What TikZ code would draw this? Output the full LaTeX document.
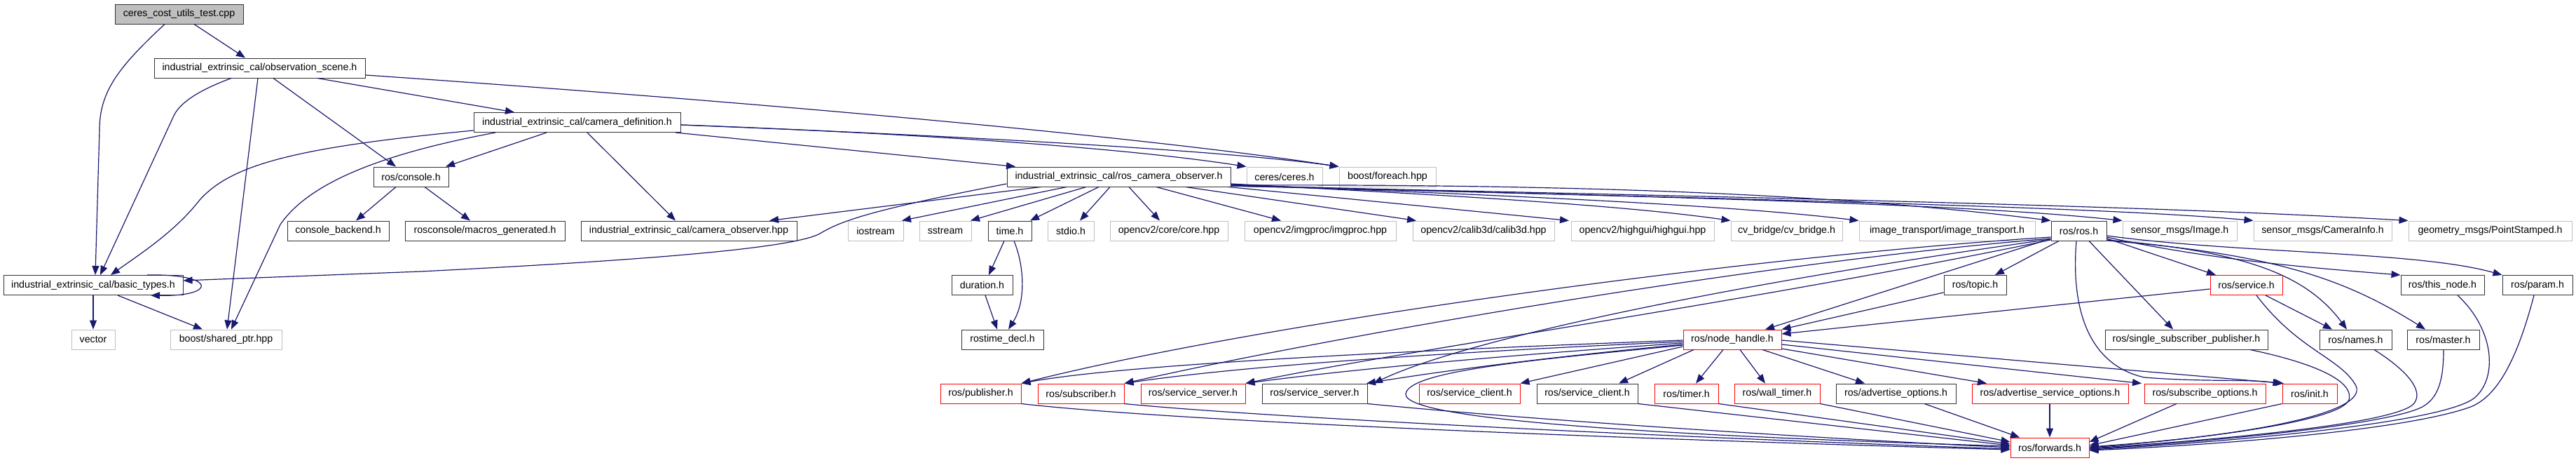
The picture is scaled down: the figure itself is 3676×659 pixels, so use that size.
\documentclass[tikz,border=0pt]{standalone}
\usepackage{fontspec}
\setmainfont{Liberation Sans}
\usepackage{tikz}
\usetikzlibrary{arrows.meta}
\tikzset{>={Triangle[length=13pt,width=10pt]}}
\definecolor{edgeblue}{RGB}{25,25,112}
\definecolor{sysgray}{RGB}{191,191,191}
\definecolor{framegray}{RGB}{50,50,50}
\definecolor{truncred}{RGB}{255,0,0}
\tikzset{
  hdrbox/.style={draw=framegray, line width=1pt, minimum height=28pt, inner sep=0pt, font=\fontsize{14.2}{16}\selectfont}, % documented header
  sysbox/.style={hdrbox, draw=sysgray}, % header outside the project
  cutbox/.style={hdrbox, draw=truncred}, % graph truncated below
  srcbox/.style={hdrbox, fill=sysgray}, % the file itself
  incl/.style={->, draw=edgeblue, line width=1.2pt}
}

\begin{document}
\begin{tikzpicture}[x=1pt,y=-1pt]
	\useasboundingbox (0,0) rectangle (3676,659);
	% rows 1-4
	\node[srcbox, minimum width=183] (cct) at (255.5,20) {ceres\_cost\_utils\_test.cpp};
	\node[hdrbox, minimum width=301] (obs) at (370.5,97) {industrial\_extrinsic\_cal/observation\_scene.h};
	\node[hdrbox, minimum width=295] (camdef) at (823.5,174.5) {industrial\_extrinsic\_cal/camera\_definition.h};
	\node[hdrbox, minimum width=107] (console) at (586.5,252) {ros/console.h};
	\node[hdrbox, minimum width=319] (roscamobs) at (1596.5,252) {industrial\_extrinsic\_cal/ros\_camera\_observer.h};
	\node[sysbox, minimum width=108] (ceres) at (1833,252) {ceres/ceres.h};
	\node[sysbox, minimum width=138] (foreach) at (1980,252) {boost/foreach.hpp};
	% row 5
	\node[hdrbox, minimum width=145] (backend) at (482.5,329) {console\_backend.h};
	\node[hdrbox, minimum width=228] (macros) at (692,329) {rosconsole/macros\_generated.h};
	\node[hdrbox, minimum width=308] (camobshpp) at (983,329) {industrial\_extrinsic\_cal/camera\_observer.hpp};
	\node[sysbox, minimum width=79] (iostream) at (1249.5,329) {iostream};
	\node[sysbox, minimum width=74] (sstream) at (1349,329) {sstream};
	\node[hdrbox, minimum width=62] (timeh) at (1441,329) {time.h};
	\node[sysbox, minimum width=66] (stdio) at (1528,329) {stdio.h};
	\node[sysbox, minimum width=168] (core) at (1668,329) {opencv2/core/core.hpp};
	\node[sysbox, minimum width=216] (imgproc) at (1884,329) {opencv2/imgproc/imgproc.hpp};
	\node[sysbox, minimum width=202] (calib) at (2117,329) {opencv2/calib3d/calib3d.hpp};
	\node[sysbox, minimum width=204] (highgui) at (2344,329) {opencv2/highgui/highgui.hpp};
	\node[sysbox, minimum width=159] (cvbridge) at (2549.5,329) {cv\_bridge/cv\_bridge.h};
	\node[sysbox, minimum width=251] (imgtrans) at (2778.5,329) {image\_transport/image\_transport.h};
	\node[hdrbox, minimum width=79] (rosh) at (2966.5,329) {ros/ros.h};
	\node[sysbox, minimum width=163] (image) at (3110.5,329) {sensor\_msgs/Image.h};
	\node[sysbox, minimum width=197] (caminfo) at (3314.5,329) {sensor\_msgs/CameraInfo.h};
	\node[sysbox, minimum width=233] (point) at (3553.5,329) {geometry\_msgs/PointStamped.h};
	% row 6
	\node[hdrbox, minimum width=256] (basic) at (133,406.5) {industrial\_extrinsic\_cal/basic\_types.h};
	\node[hdrbox, minimum width=87] (duration) at (1401.5,406.5) {duration.h};
	\node[hdrbox, minimum width=89] (topic) at (2818.5,406.5) {ros/topic.h};
	\node[cutbox, minimum width=103] (service) at (3205.5,406.5) {ros/service.h};
	\node[hdrbox, minimum width=119] (thisnode) at (3485.5,406.5) {ros/this\_node.h};
	\node[hdrbox, minimum width=100] (param) at (3621,406.5) {ros/param.h};
	% row 7
	\node[sysbox, minimum width=62] (vector) at (133,484) {vector};
	\node[sysbox, minimum width=159] (sharedptr) at (322.5,484) {boost/shared\_ptr.hpp};
	\node[hdrbox, minimum width=117] (rostimedecl) at (1430.5,484) {rostime\_decl.h};
	\node[cutbox, minimum width=140] (nodehandle) at (2472,484) {ros/node\_handle.h};
	\node[hdrbox, minimum width=232] (singlesub) at (3120,484) {ros/single\_subscriber\_publisher.h};
	\node[hdrbox, minimum width=103] (names) at (3361.5,484) {ros/names.h};
	\node[hdrbox, minimum width=103] (master) at (3486.5,484) {ros/master.h};
	% row 8
	\node[cutbox, minimum width=115] (publisher) at (1399.5,561) {ros/publisher.h};
	\node[cutbox, minimum width=123] (subscriber) at (1542.5,561) {ros/subscriber.h};
	\node[cutbox, minimum width=149] (srvserverA) at (1702.5,561) {ros/service\_server.h};
	\node[hdrbox, minimum width=150] (srvserverB) at (1876,561) {ros/service\_server.h};
	\node[cutbox, minimum width=144] (srvclientA) at (2097,561) {ros/service\_client.h};
	\node[hdrbox, minimum width=144] (srvclientB) at (2265,561) {ros/service\_client.h};
	\node[cutbox, minimum width=91] (timer) at (2406.5,561) {ros/timer.h};
	\node[cutbox, minimum width=122] (walltimer) at (2536,561) {ros/wall\_timer.h};
	\node[hdrbox, minimum width=171] (advopts) at (2705.5,561) {ros/advertise\_options.h};
	\node[cutbox, minimum width=223] (advsrvopts) at (2925.5,561) {ros/advertise\_service\_options.h};
	\node[cutbox, minimum width=173] (subopts) at (3146.5,561) {ros/subscribe\_options.h};
	\node[cutbox, minimum width=78] (init) at (3296,561) {ros/init.h};
	% row 9
	\node[cutbox, minimum width=112] (forwards) at (2925,638) {ros/forwards.h};

	% ceres_cost_utils_test.cpp
	\draw[incl] (cct.south -| 277,0) -- (obs.north -| 350,0);
	\draw[incl] (cct.south -| 235,0) .. controls (170,95) and (142,130) .. (142,185) -- (basic.north -| 136,0);
	% observation_scene.h
	\draw[incl] (obs.south -| 330,0) .. controls (280,130) and (256,148) .. (248,165) -- (basic.north -| 143,0);
	\draw[incl] (obs.south -| 368,0) -- (sharedptr.north -| 324,0);
	\draw[incl] (obs.south -| 390,0) -- (console.north -| 565,0);
	\draw[incl] (obs.south -| 453,0) -- (camdef.north -| 734,0);
	\draw[incl] (obs.east |- 0,107) .. controls (1000,140) and (1600,190) .. (foreach.north west);
	% camera_definition.h
	\draw[incl] (camdef.east |- 0,178) .. controls (1300,190) and (1600,210) .. (ceres.north west);
	\draw[incl] (camdef.east |- 0,178) .. controls (1400,195) and (1750,215) .. (foreach.north west);
	\draw[incl] (camdef.south -| 964,0) -- (roscamobs.north -| 1449,0);
	\draw[incl] (camdef.south -| 780,0) -- (console.north -| 636,0);
	\draw[incl] (camdef.south -| 838,0) -- (camobshpp.north -| 964,0);
	\draw[incl] (camdef.west |- 0,186) .. controls (420,210) and (330,235) .. (285,285) .. controls (250,330) and (200,362) .. (basic.north -| 158,0);
	\draw[incl] (camdef.south -| 707,0) .. controls (540,220) and (440,262) .. (400,320) -- (sharedptr.north -| 330,0);
	% ros/console.h
	\draw[incl] (console.south -| 565,0) -- (backend.north -| 508,0);
	\draw[incl] (console.south -| 606,0) -- (macros.north -| 671,0);
	% ros_camera_observer.h
	\draw[incl] (roscamobs.south -| 1485,0) -- (camobshpp.north -| 1098,0);
	\draw[incl] (roscamobs.west |- 0,262) .. controls (1240,300) and (1200,315) .. (1170,333) .. controls (1130,355) and (900,372) .. (600,387) -- (basic.east |- 0,400);
	\foreach \tgt/\xs/\xt in {iostream/1522/1287, sstream/1550/1385, timeh/1568/1470, stdio/1584/1541, core/1611/1655, imgproc/1650/1828, calib/1692/2021, highgui/1753/2239}
		\draw[incl] (roscamobs.south -| \xs,0) -- (\tgt.north -| \xt,0);
	\draw[incl] (roscamobs.east |- 0,262) .. controls (2000,275) and (2300,290) .. (cvbridge.north west);
	\draw[incl] (roscamobs.east |- 0,263) .. controls (2100,277) and (2450,290) .. (imgtrans.north west);
	\draw[incl] (roscamobs.east |- 0,264) .. controls (2300,262) and (2650,280) .. (rosh.north west);
	\draw[incl] (roscamobs.east |- 0,264) .. controls (2400,282) and (2800,290) .. (image.north west);
	\draw[incl] (roscamobs.east |- 0,265) .. controls (2500,284) and (3000,295) .. (caminfo.north west);
	\draw[incl] (roscamobs.east |- 0,265) .. controls (2600,283) and (3100,295) .. (point.north west);
	% time.h
	\draw[incl] (timeh.south -| 1433,0) -- (duration.north -| 1411,0);
	\draw[incl] (timeh.south -| 1447,0) .. controls (1462,380) and (1464,430) .. (rostimedecl.north -| 1439,0);
	\draw[incl] (duration.south -| 1406,0) -- (rostimedecl.north -| 1423,0);
	% basic_types.h
	\draw[incl] (basic) -- (vector);
	\draw[incl] (basic.south -| 168,0) -- (sharedptr.north -| 289,0);
	\draw[incl] (basic.north -| 210,0) .. controls (310,390) and (310,423) .. (basic.south -| 215,0);
	% ros/ros.h
	\draw[incl] (rosh.south -| 2938,0) -- (topic.north -| 2847,0);
	\draw[incl] (rosh.south -| 2916,0) -- (nodehandle.north -| 2519,0);
	\draw[incl] (rosh.south -| 2981,0) -- (singlesub.north -| 3101,0);
	\draw[incl] (rosh.east |- 0,340) -- (service.north -| 3162,0);
	\draw[incl] (rosh.east |- 0,338) .. controls (3150,370) and (3300,382) .. (thisnode.north west);
	\draw[incl] (rosh.east |- 0,336) .. controls (3200,362) and (3450,358) .. (param.north west);
	\draw[incl] (rosh.east |- 0,342) .. controls (3200,358) and (3290,390) .. (names.north -| 3349,0);
	\draw[incl] (rosh.east |- 0,343) .. controls (3250,362) and (3350,400) .. (master.north -| 3461,0);
	\draw[incl] (rosh.south -| 2963,0) .. controls (2955,440) and (2980,520) .. (3060,538) .. controls (3150,545) and (3200,540) .. (init.north west);
	\draw[incl] (rosh.west |- 0,338) .. controls (2500,365) and (1800,460) .. (publisher.north east);
	\draw[incl] (rosh.west |- 0,340) .. controls (2500,375) and (1900,480) .. (subscriber.north east);
	\draw[incl] (rosh.west |- 0,341) .. controls (2500,400) and (2100,480) .. (srvserverB.north -| 1960,0);
	\draw[incl] (rosh.west |- 0,342) .. controls (2500,430) and (2000,500) .. (srvserverA.north east);
	% ros/topic.h, ros/service.h
	\draw[incl] (topic.west |- 0,417) -- (nodehandle.north east);
	\draw[incl] (service.west |- 0,412) -- (nodehandle.east |- 0,476);
	\draw[incl] (service.south -| 3233,0) -- (names.north -| 3328,0);
	% ros/node_handle.h
	\draw[incl] (nodehandle.west |- 0,485) .. controls (2000,500) and (1600,520) .. (publisher.north east);
	\draw[incl] (nodehandle.west |- 0,487) .. controls (2000,505) and (1750,525) .. (subscriber.north east);
	\draw[incl] (nodehandle.west |- 0,489) .. controls (2100,510) and (1900,530) .. (srvserverA.north east);
	\draw[incl] (nodehandle.west |- 0,491) .. controls (2200,510) and (2050,530) .. (srvserverB.north -| 1950,0);
	\draw[incl] (nodehandle.west |- 0,494) -- (srvclientA.north east);
	\draw[incl] (nodehandle.south -| 2417,0) -- (srvclientB.north -| 2310,0);
	\draw[incl] (nodehandle.south -| 2459,0) -- (timer.north -| 2420,0);
	\draw[incl] (nodehandle.south -| 2483,0) -- (walltimer.north -| 2519,0);
	\draw[incl] (nodehandle.south -| 2515,0) -- (advopts.north -| 2661,0);
	\draw[incl] (nodehandle.east |- 0,497) -- (advsrvopts.north -| 2835,0);
	\draw[incl] (nodehandle.east |- 0,491) -- (subopts.north -| 3056,0);
	\draw[incl] (nodehandle.east |- 0,485) -- (init.north -| 3259,0);
	\draw[incl] (nodehandle.west |- 0,492) .. controls (2200,512) and (2008,528) .. (2006,562) .. controls (2005,600) and (2400,622) .. (forwards.west |- 0,636);
	% into ros/forwards.h
	\draw[incl] (publisher.south east) .. controls (1700,603) and (2400,628) .. (forwards.west |- 0,641);
	\draw[incl] (subscriber.south east) .. controls (1800,595) and (2400,624) .. (forwards.west |- 0,640);
	\draw[incl] (srvserverB.south east) .. controls (2200,600) and (2600,625) .. (forwards.west |- 0,638);
	\draw[incl] (srvclientB.south east) -- (forwards.west |- 0,635);
	\draw[incl] (timer.south east) -- (forwards.west |- 0,633);
	\draw[incl] (walltimer.south east) -- (forwards.west |- 0,630);
	\draw[incl] (advopts.south -| 2746,0) -- (forwards.north -| 2882,0);
	\draw[incl] (advsrvopts.south -| 2925,0) -- (forwards.north -| 2925,0);
	\draw[incl] (subopts.south -| 3106,0) -- (forwards.east |- 0,630);
	\draw[incl] (init.south west) -- (forwards.east |- 0,635);
	\draw[incl] (service.south -| 3220,0) .. controls (3280,500) and (3340,510) .. (3362,550) .. controls (3380,590) and (3200,622) .. (forwards.east |- 0,637);
	\draw[incl] (singlesub.south -| 3211,0) .. controls (3290,515) and (3360,540) .. (3352,570) .. controls (3340,600) and (3150,625) .. (forwards.east |- 0,638);
	\draw[incl] (names.south -| 3388,0) .. controls (3430,525) and (3460,555) .. (3445,575) .. controls (3420,605) and (3150,628) .. (forwards.east |- 0,639);
	\draw[incl] (master.south -| 3487,0) .. controls (3487,540) and (3480,565) .. (3460,578) .. controls (3420,605) and (3150,630) .. (forwards.east |- 0,640);
	\draw[incl] (thisnode.south -| 3507,0) .. controls (3560,470) and (3565,540) .. (3530,568) .. controls (3480,605) and (3150,632) .. (forwards.east |- 0,641);
	\draw[incl] (param.south -| 3616,0) .. controls (3590,520) and (3560,570) .. (3520,582) .. controls (3420,615) and (3150,635) .. (forwards.east |- 0,642);
\end{tikzpicture}
\end{document}
